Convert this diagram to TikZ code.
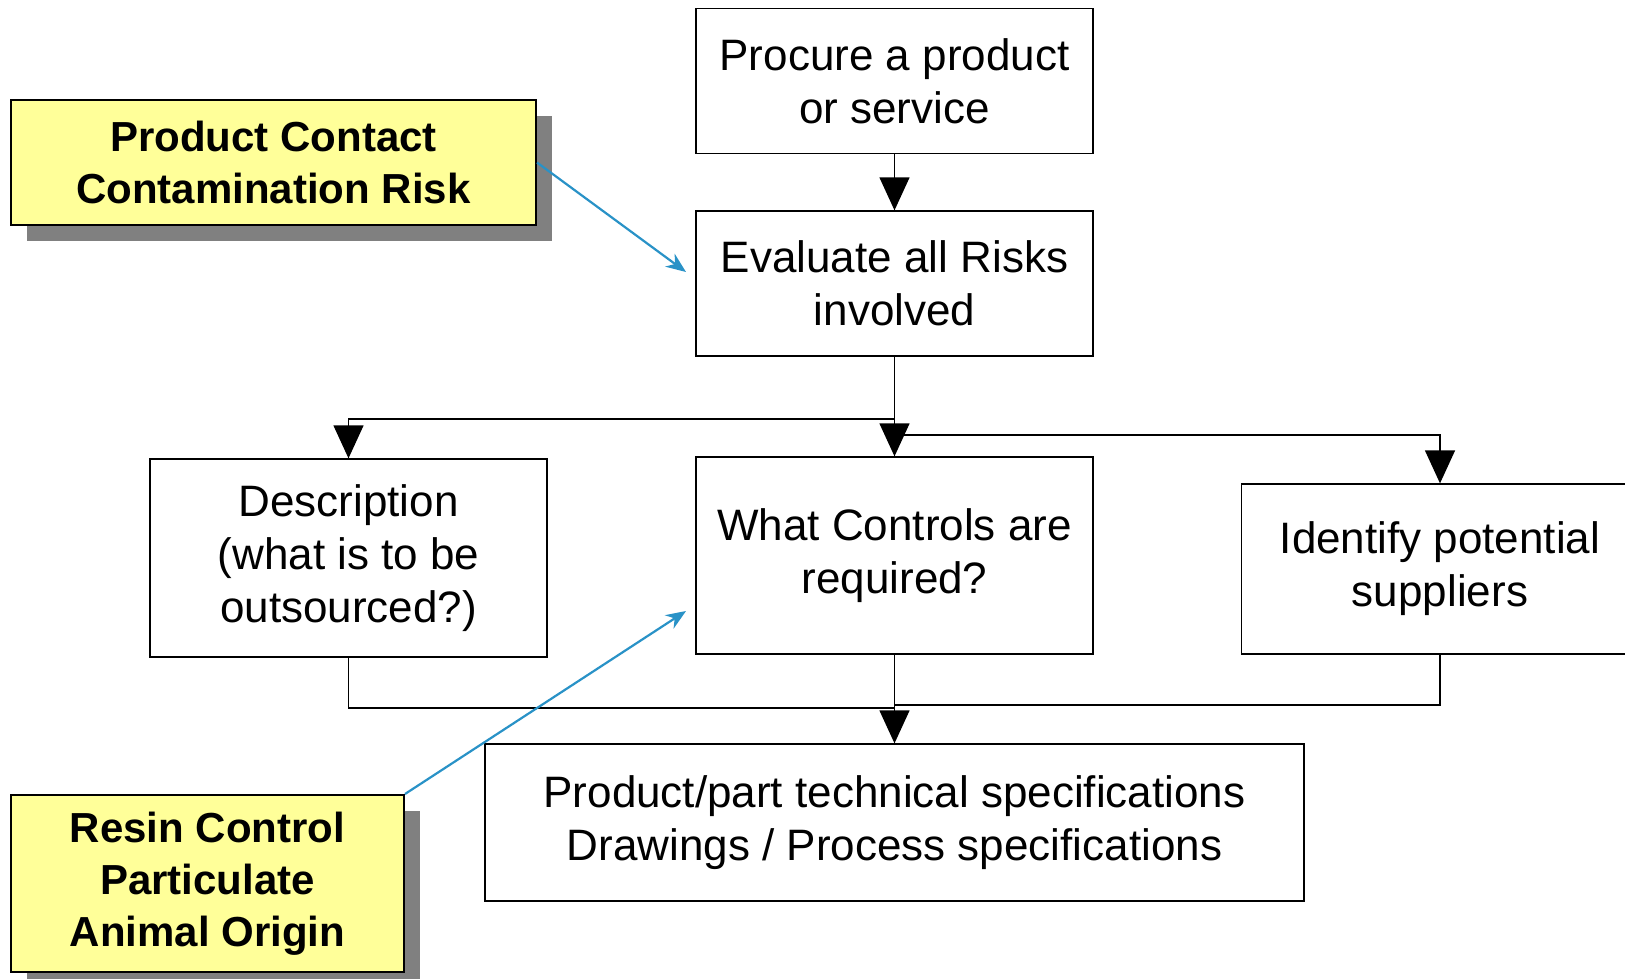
\documentclass[tikz,border=0pt]{standalone}
\usepackage{fontspec}
\setmainfont{Liberation Sans}
\usetikzlibrary{arrows.meta,shadows}
\definecolor{notefill}{RGB}{255,255,153}
\definecolor{noteshadow}{RGB}{128,128,128}
\definecolor{linkblue}{RGB}{41,146,199}
\begin{document}
\begin{tikzpicture}[x=1pt,y=-1pt,
  box/.style={draw=black,line width=1.3pt,fill=white,align=center,inner sep=0pt,
    minimum width=397pt,font=\fontsize{44}{53}\selectfont},
  note/.style={draw=black,line width=2pt,fill=notefill,align=center,inner sep=0pt,
    font=\bfseries\fontsize{42}{52}\selectfont,
    general shadow={fill=noteshadow,shadow xshift=16pt,shadow yshift=-16pt}},
  flow/.style={line width=1.3pt,-{Triangle[length=33pt,width=30pt]}},
  wire/.style={line width=1.3pt},
  link/.style={draw=linkblue,line width=2.2pt,-{Stealth[length=20pt,width=16pt]}}]
\useasboundingbox (0,0) rectangle (1625,979);

% process steps
\node[box,minimum height=145pt] (procure)   at (894.5,81)    {Procure a product\\or service};
\node[box,minimum height=145pt] (evaluate)  at (894.5,283.5) {Evaluate all Risks\\involved};
\node[box,minimum height=198pt] (describe)  at (348.5,558)   {Description\\(what is to be\\outsourced?)};
\node[box,minimum height=197pt] (controls)  at (894.5,555.5) {What Controls are\\required?};
\node[box,minimum height=170pt] (suppliers) at (1440,569)    {Identify potential\\suppliers};
\node[box,minimum width=819pt,minimum height=157pt] (specs) at (894.5,822.5)
  {Product/part technical specifications\\Drawings / Process specifications};

% call-out notes
\node[note,minimum width=525pt,minimum height=125pt] (contact) at (273.5,162.5)
  {Product Contact\\Contamination Risk};
\node[note,minimum width=393pt,minimum height=177pt] (resin) at (207.5,883.5)
  {Resin Control\\Particulate\\Animal Origin};

% branch and join points
\coordinate (splitL) at (894.5,419);
\coordinate (splitR) at (894.5,435);
\coordinate (joinL)  at (894.5,708);
\coordinate (joinR)  at (894.5,705);
\coordinate (tipA)   at (686,272);
\coordinate (tipB)   at (686,611);

% flow connectors
\draw[flow] (procure.south) -- (evaluate.north);
\draw[flow] (evaluate.south) -- (controls.north);
\draw[flow] (splitL) -| (describe.north);
\draw[flow] (splitR) -| (suppliers.north);
\draw[wire] (describe.south) |- (joinL);
\draw[wire] (suppliers.south) |- (joinR);
\draw[flow] (controls.south) -- (specs.north);

% note pointers
\draw[link] (contact.east) -- (tipA);
\draw[link] (resin.north east) -- (tipB);
\end{tikzpicture}
\end{document}
